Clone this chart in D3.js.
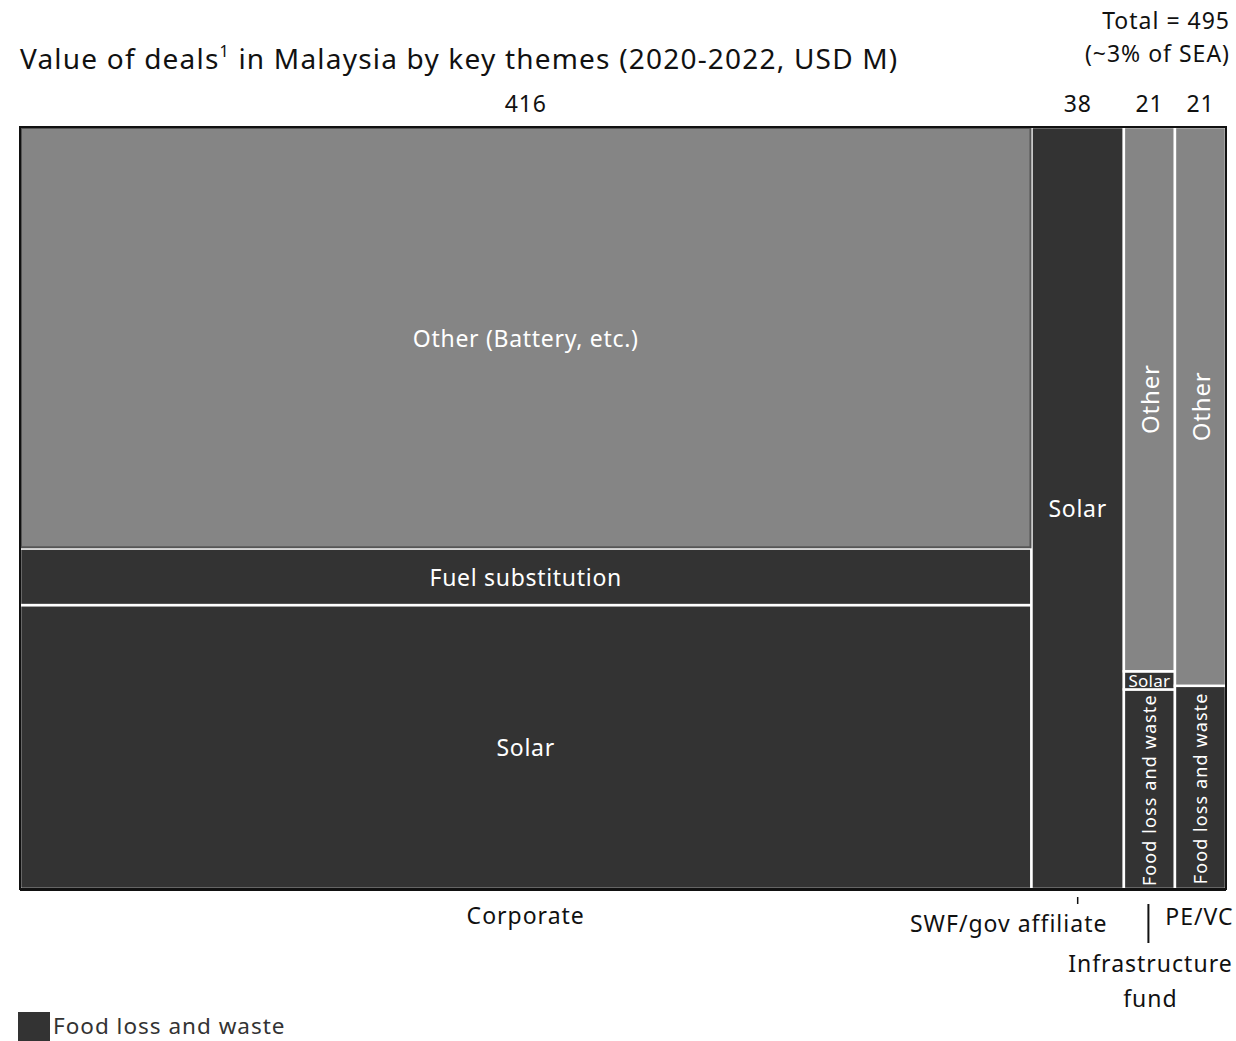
<!DOCTYPE html>
<html><head><meta charset="utf-8">
<script src="https://cdn.jsdelivr.net/npm/d3@7"></script>
<style>body{margin:0;background:#fff;} text{font-family:"Noto Sans","Open Sans",sans-serif;}</style>
</head><body>
<svg id="c" width="1236" height="1041"></svg>
<script>
const categories = ["Corporate", "SWF/gov affiliate", "Infrastructure fund", "PE/VC"];
const columnTotals = [416, 38, 21, 21];
const themes = ["Food loss and waste", "Solar", "Fuel substitution", "Other"];
// values per theme per category (USD M), bottom to top
const foodLoss = [0, 0, 5.5, 5.6];
const solar = [155, 38, 0.5, 0];
const fuelSub = [31, 0, 0, 0];
const other = [230, 0, 15, 15.4];
const otherLabels = ["Other (Battery, etc.)", "", "Other", "Other"];
const totalLabel = ["Total = 495", "(~3% of SEA)"];

const svg = d3.select("#c");
const X0 = 20, X1 = 1226, Y0 = 889, Y1 = 127;
const grand = d3.sum(columnTotals);
const x = d3.scaleLinear().domain([0, grand]).range([X0, X1]);
const y = d3.scaleLinear().domain([0, 1]).range([Y0, Y1]);
const color = {"Food loss and waste":"#333333","Solar":"#333333","Fuel substitution":"#333333","Other":"#858585"};
const series = [foodLoss, solar, fuelSub, other];

let cum = 0;
const cols = categories.map((c,i)=>{const s=cum; cum+=columnTotals[i]; return {cat:c,i,x0:s,x1:cum,total:columnTotals[i]};});

const segs = [];
cols.forEach(col=>{
  let acc = 0;
  themes.forEach((t,k)=>{
    const v = series[k][col.i];
    if (v>0){ segs.push({col, theme:t, y0:acc/col.total, y1:(acc+v)/col.total, k}); acc+=v; }
  });
});

svg.selectAll("rect.seg").data(segs).join("rect")
  .attr("x", d=>x(d.col.x0)).attr("width", d=>x(d.col.x1)-x(d.col.x0))
  .attr("y", d=>y(d.y1)).attr("height", d=>y(d.y0)-y(d.y1))
  .attr("fill", d=>color[d.theme])
  .attr("stroke", "#fff").attr("stroke-width", 2.5);

// darker border on corporate "Other"
segs.filter(d=>d.col.i===0 && d.theme==="Other").forEach(d=>{
  svg.append("rect").attr("x", x(d.col.x0)+1).attr("width", x(d.col.x1)-x(d.col.x0)-2)
    .attr("y", y(d.y1)+1).attr("height", y(d.y0)-y(d.y1)-2)
    .attr("fill","none").attr("stroke","#555").attr("stroke-width",2);
});

// outer border
svg.append("rect").attr("x",X0).attr("y",Y1).attr("width",X1-X0).attr("height",Y0-Y1)
  .attr("fill","none").attr("stroke","#111").attr("stroke-width",2);
svg.append("line").attr("x1",X0).attr("x2",X1).attr("y1",Y0+1).attr("y2",Y0+1).attr("stroke","#111").attr("stroke-width",2);

// segment labels
const white = "#fff";
function lab(t, cx, cy, size, rot, ls){
  const g = svg.append("text").attr("fill",white).attr("font-size",size)
    .attr("letter-spacing", ls).attr("text-anchor","middle").attr("dominant-baseline","central").text(t);
  if (rot) g.attr("transform",`translate(${cx},${cy}) rotate(-90)`);
  else g.attr("x",cx).attr("y",cy);
}
segs.forEach(d=>{
  const cx = (x(d.col.x0)+x(d.col.x1))/2, cy=(y(d.y0)+y(d.y1))/2;
  const narrow = d.col.i>=2;
  let t = d.theme==="Other" ? otherLabels[d.col.i] : d.theme;
  if (d.theme==="Solar" && narrow) { lab(t, cx, cy, 17, false, 0.3); return; }
  if (narrow) { if (d.theme==="Other") lab(t, cx, cy, 24, true, 0.8); else lab(t, cx, cy+1, 18, true, 1.1); return; }
  lab(t, cx, cy, 23, false, 0.7);
});

// top totals
svg.selectAll("text.tot").data(cols).join("text")
  .attr("x", d=>(x(d.x0)+x(d.x1))/2).attr("y", 112)
  .attr("text-anchor","middle").attr("font-size",23).attr("letter-spacing",0.8).attr("fill","#111")
  .text(d=>d.total);

// title
const title = svg.append("text").attr("x",20).attr("y",69).attr("font-size",28).attr("letter-spacing",1.2).attr("fill","#111");
title.append("tspan").text("Value of deals");
title.append("tspan").attr("font-size",16).attr("dy",-12).text("1");
title.append("tspan").attr("dy",12).text(" in Malaysia by key themes (2020-2022, USD M)");

const t23 = {size:23, ls:1};
svg.append("text").attr("x",1230).attr("y",29).attr("text-anchor","end").attr("font-size",23).attr("letter-spacing",1).attr("fill","#111").text(totalLabel[0]);
svg.append("text").attr("x",1230).attr("y",62).attr("text-anchor","end").attr("font-size",23).attr("letter-spacing",1).attr("fill","#111").text(totalLabel[1]);

// category labels
const cx = i=>(x(cols[i].x0)+x(cols[i].x1))/2;
function catText(t, xx, yy, anchor){
  return svg.append("text").attr("x",xx).attr("y",yy).attr("text-anchor",anchor||"middle")
    .attr("font-size",23).attr("letter-spacing",1).attr("fill","#111").text(t);
}
catText(categories[0], cx(0), 924);
svg.append("line").attr("x1",cx(1)).attr("x2",cx(1)).attr("y1",897).attr("y2",904).attr("stroke","#111").attr("stroke-width",1.5);
catText(categories[1], cx(1)-69, 932);
svg.append("line").attr("x1",cx(2)-1).attr("x2",cx(2)-1).attr("y1",904).attr("y2",943).attr("stroke","#111").attr("stroke-width",2);
const inf = svg.append("text").attr("text-anchor","middle").attr("font-size",23).attr("letter-spacing",1).attr("fill","#111");
inf.append("tspan").attr("x",cx(2)+1).attr("y",972).text("Infrastructure");
inf.append("tspan").attr("x",cx(2)+1).attr("y",1007).text(categories[2].split(" ")[1]);
catText(categories[3], cx(3)-1, 925);

// legend
svg.append("rect").attr("x",18).attr("y",1012).attr("width",32).attr("height",29).attr("fill","#333333");
svg.append("text").attr("x",53).attr("y",1034).attr("font-size",22.5).attr("letter-spacing",1).attr("fill","#333").text(themes[0]);
</script>
</body></html>
